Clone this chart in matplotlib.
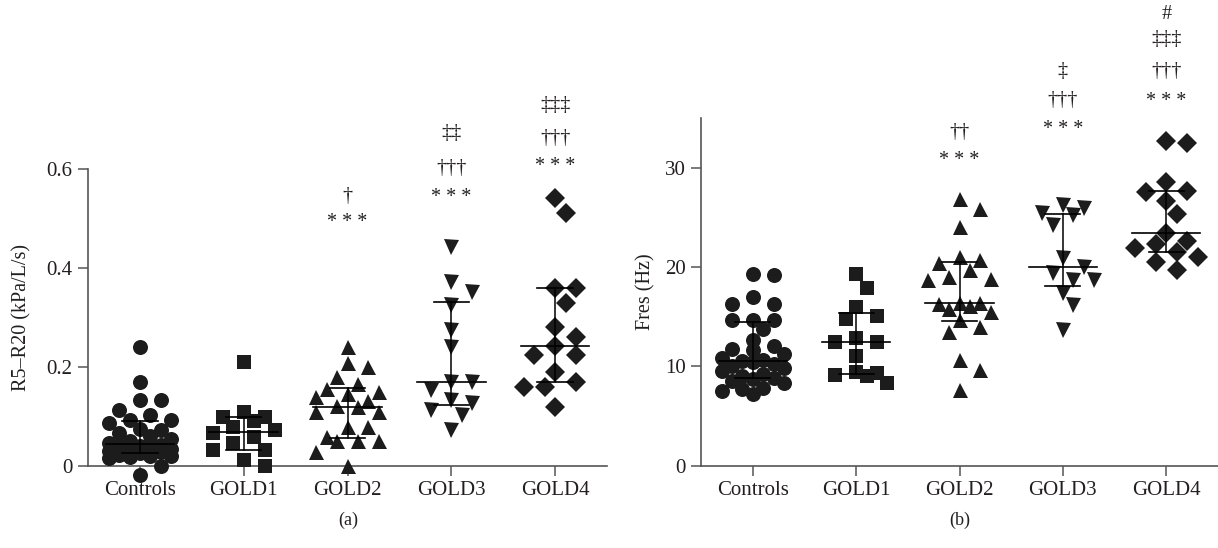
import numpy as np
import matplotlib
matplotlib.use("Agg")
import matplotlib.pyplot as plt

# ---------------- data ----------------
groups = ["Controls", "GOLD1", "GOLD2", "GOLD3", "GOLD4"]

r5r20_controls = [0.241, 0.170, 0.133, 0.133, 0.113, 0.103, 0.093, 0.093, 0.086, 0.075,
                  0.072, 0.066, 0.060, 0.055, 0.050, 0.045, 0.042, 0.040, 0.040, 0.035,
                  0.033, 0.030, 0.030, 0.028, 0.025, 0.022, 0.020, 0.020, 0.018, 0.015,
                  0.000, -0.019]
r5r20_gold1 = [0.210, 0.109, 0.099, 0.099, 0.090, 0.079, 0.072, 0.066, 0.059, 0.045,
               0.032, 0.032, 0.012, 0.000]
r5r20_gold2 = [0.241, 0.207, 0.200, 0.180, 0.165, 0.155, 0.150, 0.145, 0.140, 0.130,
               0.120, 0.119, 0.109, 0.109, 0.079, 0.079, 0.059, 0.049, 0.049, 0.049,
               0.028, 0.000]
r5r20_gold3 = [0.443, 0.372, 0.352, 0.325, 0.275, 0.241, 0.170, 0.170, 0.153, 0.133,
               0.126, 0.113, 0.103, 0.072]
r5r20_gold4 = [0.541, 0.511, 0.359, 0.359, 0.329, 0.281, 0.261, 0.243, 0.224, 0.224,
               0.190, 0.170, 0.160, 0.160, 0.119]

fres_controls = [19.3, 19.2, 17.0, 16.3, 16.3, 14.7, 14.7, 14.7, 13.8, 12.7, 12.0, 11.7,
                 11.6, 11.2, 10.8, 10.6, 10.5, 10.4, 10.2, 10.0, 9.8, 9.5, 9.2, 9.0,
                 8.8, 8.7, 8.5, 8.3, 7.8, 7.7, 7.5, 7.2]
fres_gold1 = [19.3, 17.9, 16.0, 15.1, 14.8, 12.9, 12.5, 12.5, 11.0, 9.4, 9.3, 9.1, 9.0, 8.3]
fres_gold2 = [26.8, 25.8, 24.0, 21.0, 20.7, 20.4, 19.7, 19.0, 18.8, 18.7, 16.4, 16.4,
              16.3, 16.1, 15.8, 15.5, 14.7, 14.0, 13.5, 10.6, 9.6, 7.6]
fres_gold3 = [26.25, 25.9, 25.4, 25.2, 24.2, 20.9, 20.0, 19.4, 18.7, 18.7, 17.4, 16.2, 13.7]
fres_gold4 = [32.7, 32.5, 28.6, 27.7, 27.6, 26.6, 25.3, 23.4, 22.6, 22.3, 21.9, 21.5,
              21.0, 20.5, 19.7]

sig_a = ["", "", "***\n†", "***\n†††\n‡‡", "***\n†††\n‡‡‡"]
sig_b = ["", "", "***\n††", "***\n†††\n‡", "***\n†††\n‡‡‡\n#"]

# ---------------- style ----------------
plt.rcParams["font.family"] = ["Liberation Serif", "DejaVu Serif"]
INK = "#1c1c1c"
AXC = "#555555"
markers = ["o", "s", "^", "v", "D"]
msizes = [10.8, 10.4, 10.8, 10.8, 9.8]

W, H = 1218, 548
fig = plt.figure(figsize=(W / 100, H / 100), dpi=100)
axA = fig.add_axes([88 / W, 1 - 465.7 / H, (607 - 88) / W, (465.7 - 169.3) / H])
axB = fig.add_axes([701 / W, 1 - 465.7 / H, (1218 - 701) / W, (465.7 - 118) / H])


def swarm_offsets(ax, xc, vals, step=10.4, maxk=3, dmin=15.0):
    pts = ax.transData.transform(np.column_stack([np.full(len(vals), xc), vals]))
    ys = pts[:, 1]
    order = np.argsort(-ys)
    cands = sorted(range(-maxk, maxk + 1), key=lambda k: (abs(k), -k))
    placed = []
    offs = np.zeros(len(vals))
    for i in order:
        choice = None
        best_d, best_o = -1, 0
        for k in cands:
            ox = k * step
            dm = min([np.hypot(ox - px, ys[i] - py) for px, py in placed] + [1e9])
            if dm >= dmin:
                choice = ox
                break
            if dm > best_d + 0.5:
                best_d, best_o = dm, ox
        if choice is None:
            choice = best_o
        offs[i] = choice
        placed.append((choice, ys[i]))
    px_per_unit = (ax.transData.transform((1, 0))[0] - ax.transData.transform((0, 0))[0])
    return xc + offs / px_per_unit


def setup(ax, ylim, yticks, yticklabels):
    ax.set_xlim(-0.5, 4.5)
    ax.set_ylim(*ylim)
    for s in ["top", "right"]:
        ax.spines[s].set_visible(False)
    for s in ["left", "bottom"]:
        ax.spines[s].set_color(AXC)
        ax.spines[s].set_linewidth(1.2)
    ax.set_yticks(yticks)
    ax.set_yticklabels(yticklabels)
    ax.set_xticks(range(len(groups)))
    ax.set_xticklabels(groups)
    ax.tick_params(axis="both", direction="out", length=7, width=1.1, color=AXC,
                   labelsize=15, labelcolor="#231f20", pad=4)


def draw(ax, datasets, sigs, sig_y):
    for i, vals in enumerate(datasets):
        vals = np.asarray(vals, float)
        xs = swarm_offsets(ax, i, vals)
        ax.plot(xs, vals, linestyle="none", marker=markers[i], markersize=msizes[i],
                color=INK, markeredgewidth=0, clip_on=False, zorder=3)
        q1, med, q3 = np.percentile(vals, [25, 50, 75], method="weibull")
        ax.plot([i, i], [q1, q3], color="black", lw=1.1, zorder=4)
        ax.plot([i - 0.33, i + 0.33], [med, med], color="black", lw=1.2, zorder=4)
        for q in (q1, q3):
            ax.plot([i - 0.17, i + 0.17], [q, q], color="black", lw=1.2, zorder=4)
        if sigs[i]:
            rows = sigs[i].split("\n")
            for r, yy in zip(rows, sig_y[i]):
                txt = " ".join(r) if r.startswith("*") else r
                ax.text(i, yy, txt, ha="center", va="baseline", fontsize=14.5,
                        color="#231f20", clip_on=False)


setup(axA, (0, 0.6), [0, 0.2, 0.4, 0.6], ["0", "0.2", "0.4", "0.6"])
setup(axB, (0, 35), [0, 10, 20, 30], ["0", "10", "20", "30"])

sig_pos_a = [[], [], [0.484, 0.535], [0.534, 0.592, 0.663], [0.596, 0.653, 0.720]]
sig_pos_b = [[], [], [30.3, 33.1], [33.35, 36.3, 39.2], [36.2, 39.2, 42.4, 44.95]]

draw(axA, [r5r20_controls, r5r20_gold1, r5r20_gold2, r5r20_gold3, r5r20_gold4], sig_a, sig_pos_a)
draw(axB, [fres_controls, fres_gold1, fres_gold2, fres_gold3, fres_gold4], sig_b, sig_pos_b)

axA.set_ylabel("R5–R20 (kPa/L/s)", fontsize=14.5, color="#231f20")
axA.yaxis.set_label_coords(-0.108, 0.5)
axB.set_ylabel("Fres (Hz)", fontsize=14.5, color="#231f20")
axB.yaxis.set_label_coords(-0.089, 0.5)

fig.text(348 / W, 1 - 520 / H, "(a)", ha="center", va="center", fontsize=13, color="#231f20")
fig.text(960 / W, 1 - 520 / H, "(b)", ha="center", va="center", fontsize=13, color="#231f20")

fig.savefig("out.png", dpi=100)
